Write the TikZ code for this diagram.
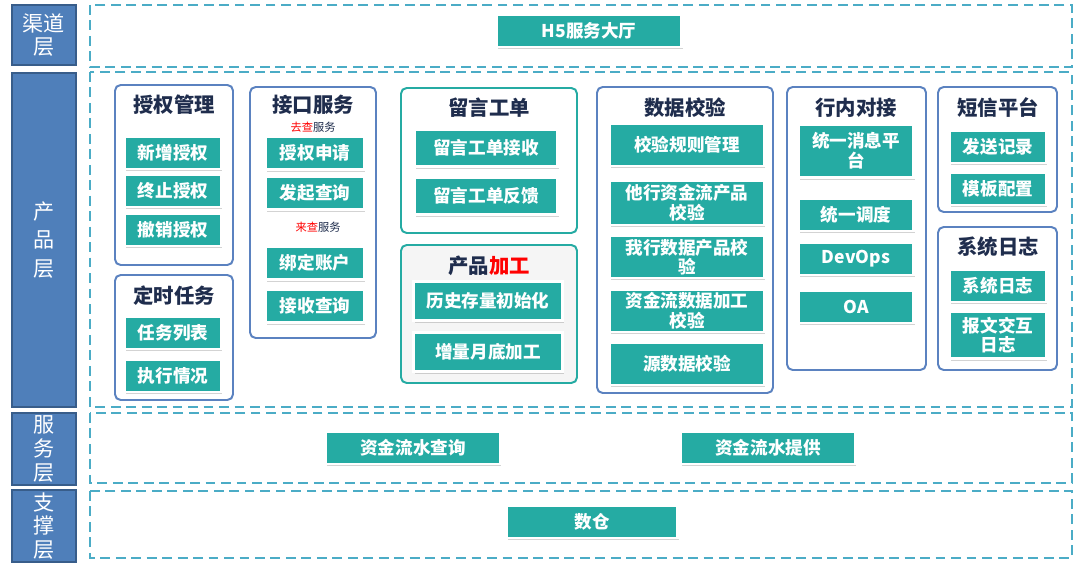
\documentclass[tikz,border=0pt]{standalone}
\usepackage{fontspec}
\usepackage{xcolor}
\setmainfont{Noto Sans CJK SC}
\usetikzlibrary{shadows}

\definecolor{itemteal}{HTML}{25ABA3}
\definecolor{layerblue}{HTML}{4F7FBA}
\definecolor{layerline}{HTML}{385D8A}
\definecolor{groupblue}{HTML}{5B82C0}
\definecolor{dashteal}{HTML}{4BACC6}
\definecolor{titlenavy}{HTML}{1F2D4D}

\tikzset{
  layer/.style={draw=layerline, line width=1.5pt, fill=layerblue, text=white,
    font=\fontsize{15}{17}\selectfont, align=center, inner sep=0pt},
  frame/.style={draw=dashteal, line width=1.6pt, dash pattern=on 7pt off 4pt},
  group/.style={draw=groupblue, line width=1.4pt, rounded corners=4pt},
  tgroup/.style={draw=itemteal, line width=1.4pt, rounded corners=4pt},
  item/.style={fill=itemteal, draw=white, line width=2pt, text=white,
    font=\bfseries\fontsize{12.5}{14}\selectfont, align=center, inner sep=1pt,
    drop shadow={shadow xshift=1pt, shadow yshift=-1.5pt, opacity=.35}},
  gtitle/.style={text=titlenavy, font=\bfseries\fontsize{14.5}{16}\selectfont},
  note/.style={text=titlenavy, font=\fontsize{8}{9}\selectfont}
}

\begin{document}
\begin{tikzpicture}[x=0.025cm,y=-0.025cm]
\useasboundingbox (0,0) rectangle (1085,576);

% layers
\node[layer, minimum width=1.6cm, minimum height=1.5cm] (qd) at (44,35) {渠道\\层};
\node[layer, minimum width=1.6cm, minimum height=8.35cm] (cp) at (44,240) {产\\[3pt]品\\[3pt]层};
\node[layer, minimum width=1.6cm, minimum height=1.8cm] (fw) at (44,449) {服\\务\\层};
\node[layer, minimum width=1.6cm, minimum height=1.8cm] (zc) at (44,526) {支\\撑\\层};

\draw[frame] (90,5) rectangle (1072,67);
\draw[frame] (90,72) rectangle (1072,407);
\draw[frame] (90,413) rectangle (1072,483);
\draw[frame] (90,491) rectangle (1072,558);

% channel
\node[item, minimum width=4.62cm, minimum height=0.8cm] (h5) at (589,31) {H5服务大厅};

% 授权管理
\draw[group] (115,85) rectangle (233,265);
\node[gtitle] (sqgl) at (174,105) {授权管理};
\node[item, minimum width=2.4cm, minimum height=0.8cm] (xzsq) at (173,153) {新增授权};
\node[item, minimum width=2.4cm, minimum height=0.8cm] (zzsq) at (173,191) {终止授权};
\node[item, minimum width=2.4cm, minimum height=0.8cm] (cxsq) at (173,230) {撤销授权};

% 定时任务
\draw[group] (115,275) rectangle (233,400);
\node[gtitle] (dsrw) at (174,296) {定时任务};
\node[item, minimum width=2.4cm, minimum height=0.8cm] (rwlb) at (173,333) {任务列表};
\node[item, minimum width=2.4cm, minimum height=0.8cm] (zxqk) at (173,376) {执行情况};

% 接口服务
\draw[group] (250,87) rectangle (376,338);
\node[gtitle] (jkfw) at (313,105) {接口服务};
\node[note] (qcfw) at (313,127) {\textcolor{red}{去查}服务};
\node[item, minimum width=2.45cm, minimum height=0.82cm] (sqsq) at (315,153) {授权申请};
\node[item, minimum width=2.45cm, minimum height=0.82cm] (fqcx) at (315,193) {发起查询};
\node[note] (lcfw) at (318,227) {\textcolor{red}{来查}服务};
\node[item, minimum width=2.45cm, minimum height=0.82cm] (bdzh) at (315,263) {绑定账户};
\node[item, minimum width=2.45cm, minimum height=0.82cm] (jscx) at (315,306) {接收查询};

% 留言工单
\draw[tgroup] (401,88) rectangle (577,233);
\node[gtitle] (lygd) at (489,108) {留言工单};
\node[item, minimum width=3.58cm, minimum height=0.92cm] (gdjs) at (486,148) {留言工单接收};
\node[item, minimum width=3.58cm, minimum height=0.92cm] (gdfk) at (486,196) {留言工单反馈};

% 产品加工
\draw[tgroup, fill=gray!8] (401,245) rectangle (577,383);
\node[gtitle] (cpjg) at (489,266) {产品\textcolor{red}{加工}};
\node[item, minimum width=3.72cm, minimum height=0.98cm] (lscl) at (488,301) {历史存量初始化};
\node[item, minimum width=3.72cm, minimum height=0.98cm] (zlyd) at (488,352) {增量月底加工};

% 数据校验
\draw[group] (597,87) rectangle (773,393);
\node[gtitle] (sjjy) at (685,108) {数据校验};
\node[item, minimum width=3.85cm, minimum height=1.05cm] (jygz) at (687,145) {校验规则管理};
\node[item, minimum width=3.85cm, minimum height=1.1cm] (thzj) at (687,203) {他行资金流产品\\校验};
\node[item, minimum width=3.85cm, minimum height=1.05cm] (whsj) at (687,257) {我行数据产品校\\验};
\node[item, minimum width=3.85cm, minimum height=1.05cm] (zjls) at (687,311) {资金流数据加工\\校验};
\node[item, minimum width=3.85cm, minimum height=1.05cm] (ysjy) at (687,364) {源数据校验};

% 行内对接
\draw[group] (787,87) rectangle (926,370);
\node[gtitle] (hndj) at (856,108) {行内对接};
\node[item, minimum width=2.88cm, minimum height=1.32cm] (tyxx) at (856,151) {统一消息平\\台};
\node[item, minimum width=2.88cm, minimum height=0.8cm] (tydd) at (856,215) {统一调度};
\node[item, minimum width=2.88cm, minimum height=0.8cm] (devops) at (856,259) {DevOps};
\node[item, minimum width=2.88cm, minimum height=0.8cm] (oa) at (856,307) {OA};

% 短信平台
\draw[group] (938,87) rectangle (1057,212);
\node[gtitle] (dxpt) at (998,108) {短信平台};
\node[item, minimum width=2.4cm, minimum height=0.8cm] (fsjl) at (998,147) {发送记录};
\node[item, minimum width=2.4cm, minimum height=0.8cm] (mbpz) at (998,189) {模板配置};

% 系统日志
\draw[group] (938,227) rectangle (1057,370);
\node[gtitle] (xtrz) at (998,247) {系统日志};
\node[item, minimum width=2.4cm, minimum height=0.8cm] (rzitem) at (998,286) {系统日志};
\node[item, minimum width=2.4cm, minimum height=1.18cm] (bwjh) at (998,335) {报文交互\\日志};

% service and support
\node[item, minimum width=4.35cm, minimum height=0.8cm] (zjcx) at (413,448) {资金流水查询};
\node[item, minimum width=4.35cm, minimum height=0.8cm] (zjtg) at (768,448) {资金流水提供};
\node[item, minimum width=4.28cm, minimum height=0.8cm] (sc) at (592,522) {数仓};
\end{tikzpicture}
\end{document}
